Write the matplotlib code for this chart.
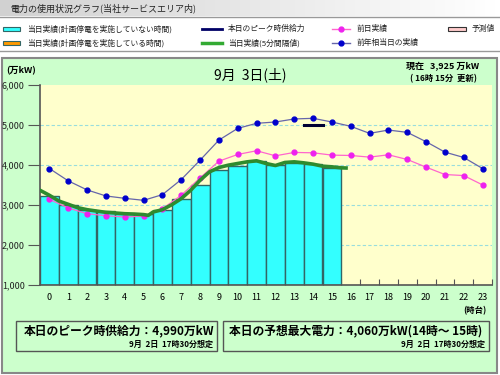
import matplotlib
matplotlib.use("Agg")
import matplotlib.pyplot as plt
from matplotlib.patches import Rectangle
from matplotlib.lines import Line2D
import numpy as np

plt.rcParams['font.family'] = ['Noto Sans CJK JP', 'DejaVu Sans']

hours = list(range(24))
hour_labels = [str(h) for h in hours]
# today actual hourly (bars), hours 0..15
actual_hourly = [3234, 3008, 2883, 2841, 2782, 2766, 2883, 3142, 3494, 3870,
                 3971, 4096, 3996, 4054, 4021, 3937]
# previous day actual
prev_day = [3142, 2925, 2782, 2732, 2699, 2724, 2908, 3243, 3678, 4096,
            4264, 4356, 4230, 4314, 4305, 4247, 4238, 4197, 4255, 4138,
            3946, 3762, 3736, 3502]
# previous year equivalent day
prev_year = [3912, 3603, 3377, 3226, 3167, 3117, 3259, 3636, 4121, 4623,
             4916, 5042, 5075, 5151, 5167, 5075, 4967, 4791, 4874, 4816,
             4582, 4322, 4188, 3912]
# today 5-min actual (read at half-hour points), time in hours
green_t = [0.0, 0.5, 1.0, 1.5, 2.0, 2.5, 3.0, 3.5, 4.0, 4.5, 5.0, 5.5, 5.75,
           6.0, 6.5, 7.0, 7.5, 8.0, 8.5, 9.0, 9.5, 10.0, 10.5, 11.0, 11.5,
           12.0, 12.5, 13.0, 13.5, 14.0, 14.5, 15.0, 15.5, 16.0, 16.25]
green_v = [3368, 3243, 3100, 3017, 2933, 2883, 2849, 2816, 2800, 2782, 2774,
           2760, 2741, 2824, 2883, 3008, 3159, 3368, 3619, 3828, 3937, 3996,
           4038, 4079, 4105, 4038, 3987, 4063, 4079, 4054, 4021, 3971, 3954,
           3929, 3925]
peak_supply = 4990
peak_hour = 14

W, H = 500, 375
fig = plt.figure(figsize=(5, 3.75), dpi=100)
fig.patch.set_facecolor('white')

def fx(x):
    return x / W

def fy(y):
    return 1 - y / H

# background layer
bg = fig.add_axes([0, 0, 1, 1], zorder=-5)
bg.set_xlim(0, W)
bg.set_ylim(H, 0)
bg.axis('off')
grad = np.linspace(0.82, 1.0, 100).reshape(1, -1)
bg.imshow(np.dstack([grad, grad, grad]), extent=(0, W, 16, 0), aspect='auto')
bg.plot([0, W], [16.5, 16.5], color='#999999', lw=1)
bg.plot([0, W], [51, 51], color='#999999', lw=1)
bg.add_patch(Rectangle((2, 58), 495, 315, facecolor='#CCFFCC',
                       edgecolor='#888888', lw=1.5))
bg.add_patch(Rectangle((15.5, 321), 201, 30, facecolor='#CCFFCC',
                       edgecolor='#555555', lw=1))
bg.add_patch(Rectangle((222.5, 321), 266, 30, facecolor='#CCFFCC',
                       edgecolor='#555555', lw=1))

# legend
bg.add_patch(Rectangle((3, 26.5), 17, 4, facecolor='#33FFFF', edgecolor='#336666', lw=0.8))
bg.add_patch(Rectangle((3, 40.5), 17, 4, facecolor='#FF9900', edgecolor='#336666', lw=0.8))
bg.plot([202, 222], [29, 29], color='#000066', lw=2)
bg.plot([202, 222], [43, 43], color='#33AA33', lw=2.5)
bg.plot([332, 350], [29, 29], color='#FF66CC', lw=1)
bg.plot([341], [29], 'o', color='#EE22EE', ms=3.5)
bg.plot([332, 350], [43, 43], color='#6666AA', lw=1)
bg.plot([341], [43], 'o', color='#0000CC', ms=3.5)
bg.add_patch(Rectangle((448, 26.5), 18, 4, facecolor='#FFCCCC', edgecolor='#333333', lw=0.8))
lg = dict(fontsize=5.6, va='center', color='#222222')
fig.text(fx(27), fy(29), '当日実績(計画停電を実施していない時間)', **lg)
fig.text(fx(27), fy(43), '当日実績(計画停電を実施している時間)', **lg)
fig.text(fx(228), fy(29), '本日のピーク時供給力', **lg)
fig.text(fx(228), fy(43), '当日実績(5分間隔値)', **lg)
fig.text(fx(357), fy(29), '前日実績', **lg)
fig.text(fx(357), fy(43), '前年相当日の実績', **lg)
fig.text(fx(472), fy(29), '予測値', **lg)

fig.text(fx(10), fy(8), '電力の使用状況グラフ(当社サービスエリア内)', fontsize=6.5,
         va='center', color='#222222')

# chart texts
fig.text(fx(6), fy(71), '(万kW)', fontsize=6.5, va='center', fontweight='bold')
fig.text(fx(250), fy(75), '9月  3日(土)', fontsize=10, va='center', ha='center')
fig.text(fx(443), fy(67), '現在   3,925 万kW', fontsize=6.5, va='center', ha='center',
         fontweight='bold')
fig.text(fx(443), fy(79), '( 16時 15分  更新)', fontsize=6, va='center', ha='center',
         fontweight='bold')
fig.text(fx(487), fy(311), '(時台)', fontsize=6, va='center', ha='right',
         fontweight='bold')

fig.text(fx(24), fy(331), '本日のピーク時供給力：4,990万kW', fontsize=8.5,
         va='center', fontweight='bold')
fig.text(fx(213), fy(344), '9月  2日  17時30分想定', fontsize=5.8, va='center',
         ha='right', fontweight='bold')
fig.text(fx(229), fy(331), '本日の予想最大電力：4,060万kW(14時～ 15時)', fontsize=8.5,
         va='center', fontweight='bold')
fig.text(fx(485), fy(344), '9月  2日  17時30分想定', fontsize=5.8, va='center',
         ha='right', fontweight='bold')

# main chart
ax = fig.add_axes([fx(40), fy(285), 452 / W, 200 / H])
ax.set_facecolor('#FFFFCC')
ax.set_xlim(0, 24)
ax.set_ylim(1000, 6000)

for yv in [2000, 3000, 4000, 5000]:
    ax.axhline(yv, color='#99DDDD', lw=0.8, ls=(0, (3, 2)), zorder=1)

xc = np.arange(len(actual_hourly)) + 0.5
ax.bar(xc, np.array(actual_hourly) - 1000, bottom=1000, width=1.0,
       color='#33FFFF', edgecolor='#336666', lw=1, zorder=2)

xh = np.array(hours) + 0.5
ax.plot(xh, prev_year, color='#6666AA', lw=0.9, marker='o', ms=3.5,
        mfc='#0000CC', mec='#0000CC', zorder=4)
ax.plot(xh, prev_day, color='#FF66CC', lw=0.9, marker='o', ms=3.5,
        mfc='#EE22EE', mec='#EE22EE', zorder=4)
ax.plot(green_t, green_v, color='#2E8B2E', lw=2.6, zorder=5)
ax.plot([peak_hour, peak_hour + 1], [peak_supply, peak_supply],
        color='#000033', lw=2.2, zorder=6)

ax.set_yticks([1000, 2000, 3000, 4000, 5000, 6000])
ax.set_yticklabels([f'{v:,}' for v in [1000, 2000, 3000, 4000, 5000, 6000]])
ax.set_xticks(np.arange(0, 25))
ax.set_xticklabels([])
ax.set_xticks(xh, minor=True)
ax.set_xticklabels(hour_labels, minor=True)
ax.tick_params(axis='x', which='major', length=4, direction='in', color='#555555')
ax.tick_params(axis='x', which='minor', length=0, labelsize=6.5, pad=6)
ax.tick_params(axis='y', length=9, labelsize=6.5, color='#555555', pad=2,
               labelcolor='#222222')
for s in ['top', 'right']:
    ax.spines[s].set_visible(False)
for s in ['left', 'bottom']:
    ax.spines[s].set_color('#555555')
    ax.spines[s].set_linewidth(1.2)

fig.savefig('out.png', dpi=100)
